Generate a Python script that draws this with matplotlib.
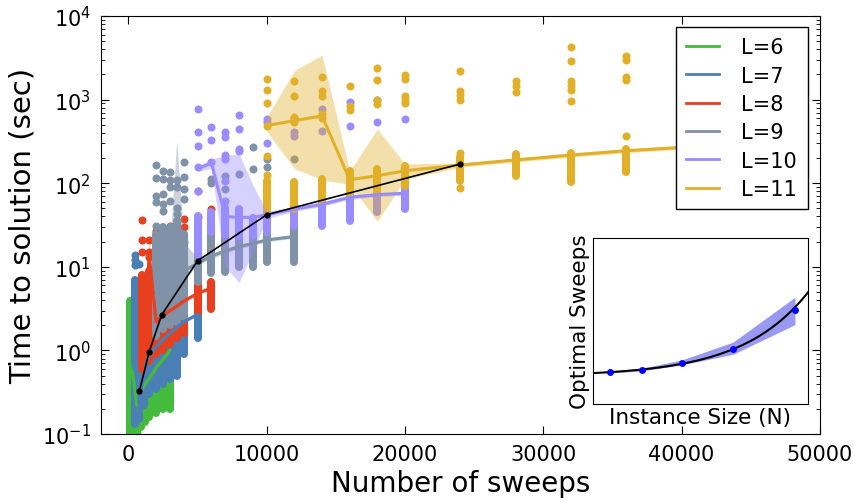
import numpy as np
import matplotlib
matplotlib.use('Agg')
import matplotlib.pyplot as plt
from matplotlib.lines import Line2D

plt.rcParams['font.family'] = 'DejaVu Sans'
plt.rcParams['mathtext.default'] = 'regular'
plt.rcParams['xtick.direction'] = 'in'
plt.rcParams['ytick.direction'] = 'in'
plt.rcParams['xtick.top'] = True
plt.rcParams['ytick.right'] = True

# ---- data ----
# each L: sweep columns, dense range of the dot column, stray dots,
# median TTS line and the shaded band round it
sweeps_6 = [100, 300, 600, 900, 1200, 1500, 2000, 2500, 3000]
lo_6 = [0.05, 0.07, 0.1, 0.12, 0.14, 0.16, 0.18, 0.2, 0.2]
hi_6 = [3.9, 3.5, 2.0, 1.5, 1.3, 0.8, 0.9, 0.95, 1.1]
out_6 = [[], [], [], [], [], [4.5], [], [], []]
med_6 = [0.6, 0.55, 0.22, 0.32, 0.4, 0.46, 0.62, 0.78, 1.0]
blo_6 = [0.5, 0.45, 0.18, 0.29, 0.37, 0.43, 0.58, 0.74, 0.95]
bhi_6 = [0.75, 0.7, 0.27, 0.36, 0.43, 0.5, 0.66, 0.82, 1.05]

sweeps_7 = [500, 800, 1100, 1500, 2000, 2500, 3000, 3500, 4000, 5000]
lo_7 = [0.13, 0.15, 0.22, 0.3, 0.35, 0.4, 0.45, 0.5, 0.9, 1.4]
hi_7 = [7.0, 5.5, 4.0, 1.6, 1.8, 2.0, 2.2, 2.3, 2.5, 2.9]
out_7 = [[14, 12, 10.5], [10.9, 6.2], [5.4], [], [12, 9.4], [11.5, 7.9],
         [13.6, 9.4], [16.3, 7.5], [20, 9], []]
med_7 = [1.2, 0.2, 0.6, 0.88, 1.1, 1.35, 1.6, 1.9, 2.2, 2.7]
blo_7 = [0.8, 0.15, 0.54, 0.82, 1.04, 1.28, 1.52, 1.8, 2.1, 2.6]
bhi_7 = [1.6, 0.3, 0.66, 0.94, 1.16, 1.42, 1.68, 2.0, 2.3, 2.8]

sweeps_8 = [1000, 1500, 2000, 2500, 3000, 3500, 4000, 5000, 6000]
lo_8 = [0.6, 0.75, 0.9, 1.0, 1.2, 1.4, 1.6, 2.9, 3.1]
hi_8 = [8.0, 9.0, 5.0, 6.0, 7.0, 7.5, 7.5, 6.0, 6.6]
out_8 = [[36, 21, 15], [21, 15, 13], [27, 16], [23, 18], [31, 28, 22],
         [28, 26], [37, 30], [39], [49]]
med_8 = [0.55, 14, 2.2, 2.65, 3.0, 3.4, 3.9, 4.8, 5.6]
blo_8 = [0.45, 8, 2.0, 2.5, 2.85, 3.2, 3.7, 4.6, 5.4]
bhi_8 = [0.9, 20, 2.4, 2.8, 3.15, 3.6, 4.1, 5.0, 5.8]

sweeps_9 = [2000, 2500, 3000, 3500, 4000, 5000, 6000, 7000, 8000, 9000, 10000, 12000]
lo_9 = [1.5, 1.8, 2.0, 2.2, 2.5, 6.5, 8.5, 8.7, 10, 10, 11.5, 11.5]
hi_9 = [25, 30, 30, 35, 25, 14, 26, 24, 23.5, 24, 26, 31]
out_9 = [[167, 116, 71, 59, 31], [141, 112, 74, 56, 47], [135, 108, 90, 62],
         [108, 89, 50, 43], [180, 120, 85, 65], [81], [112, 100], [123, 85],
         [130], [270, 148], [195, 156], [195]]
med_9 = [4.5, 5, 7, 30, 9, 11, 13.5, 15.5, 17.5, 19, 21, 23]
blo_9 = [4, 4.5, 6, 10, 7, 10.5, 12.5, 14.5, 16.5, 18, 20, 22]
bhi_9 = [5, 5.6, 20, 330, 20, 12.5, 14.5, 16.5, 18.5, 20, 22, 24.5]

sweeps_10 = [5000, 6000, 7000, 8000, 9000, 10000, 12000, 14000, 16000, 18000, 20000]
lo_10 = [13, 26, 24, 23.5, 24, 26, 31, 31, 35, 45, 49]
hi_10 = [40, 45, 50, 49, 38, 45, 49, 62, 70, 78, 85]
out_10 = [[770, 410, 280, 155, 81], [465, 330, 180], [410, 360, 215, 195, 105, 62],
          [655, 445, 256, 240], [], [590, 540, 300], [600, 410, 370], [770, 425],
          [950, 490], [1000, 540], [590]]
med_10 = [148, 175, 40, 39, 39, 42, 49, 56, 68, 73, 76]
blo_10 = [140, 150, 10, 6.5, 15, 38, 46, 53, 64, 69, 72]
bhi_10 = [160, 195, 215, 225, 95, 46, 52, 60, 72, 77, 80]

sweeps_11 = [10000, 12000, 14000, 16000, 18000, 20000, 24000, 28000, 32000, 36000, 40000]
lo_11 = [45, 49, 62, 75, 79, 93, 107, 123, 104, 135, 150]
hi_11 = [105, 103, 112, 140, 148, 160, 205, 225, 230, 260, 290]
out_11 = [[1760, 1300, 900, 480, 210, 125], [1650, 1100, 620, 540],
          [1880, 1270, 1100, 680, 600], [1450, 850, 760], [2370, 1720, 1000, 880],
          [1950, 1750, 1100, 1000, 900], [2200, 1270, 1150, 1000, 230, 87],
          [1650, 1450, 1250], [4300, 2900, 1680, 1500, 1300, 960],
          [3350, 2950, 1880, 1700, 370], [1500]]
med_11 = [490, 560, 640, 110, 123, 141, 165, 190, 217, 245, 268]
blo_11 = [420, 150, 110, 97, 35, 112, 155, 180, 205, 232, 255]
bhi_11 = [620, 2220, 3410, 140, 445, 170, 175, 200, 230, 258, 282]

labels = ['L=6', 'L=7', 'L=8', 'L=9', 'L=10', 'L=11']
colors = ['#44bb3c', '#4a7fb5', '#e8401e', '#8092a8', '#998cff', '#e2b028']

# optimal sweeps (black line) and inset
opt_sweeps = [800, 1500, 2400, 5000, 10000, 24000]
opt_tts = [0.33, 0.96, 2.65, 11.8, 42, 170]
inst_size = [343, 512, 729, 1000, 1331]
inst_opt = [1500, 2400, 5000, 10000, 24000]
inst_lo = [1200, 2000, 4200, 8000, 18700]
inst_hi = [1800, 2900, 6000, 12400, 28600]

groups = [
    (sweeps_6, lo_6, hi_6, out_6, med_6, blo_6, bhi_6),
    (sweeps_7, lo_7, hi_7, out_7, med_7, blo_7, bhi_7),
    (sweeps_8, lo_8, hi_8, out_8, med_8, blo_8, bhi_8),
    (sweeps_9, lo_9, hi_9, out_9, med_9, blo_9, bhi_9),
    (sweeps_10, lo_10, hi_10, out_10, med_10, blo_10, bhi_10),
    (sweeps_11, lo_11, hi_11, out_11, med_11, blo_11, bhi_11),
]

fig = plt.figure(figsize=(8.54, 5.02), dpi=100)
ax = fig.add_axes([0.118, 0.1335, 0.842, 0.8325])

# dots first
for (sw, lo, hi, out, med, blo, bhi), c in zip(groups, colors):
    ax.vlines(sw, lo, hi, colors=c, linewidth=5.8, capstyle='round', zorder=2)
    xs = [s for s, o in zip(sw, out) for _ in o]
    ys = [v for o in out for v in o]
    ax.plot(xs, ys, 'o', color=c, ms=5.8, mec='none', zorder=2)

# bands and median lines on top
for (sw, lo, hi, out, med, blo, bhi), c in zip(groups, colors):
    ax.fill_between(sw, blo, bhi, color=c, alpha=0.4, lw=0, zorder=3)
    ax.plot(sw, med, color=c, lw=2.2, zorder=4)

ax.plot(opt_sweeps, opt_tts, 'o-', color='black', lw=1.2, ms=3.5, zorder=5)

ax.set_yscale('log')
ax.set_ylim(0.1, 1e4)
ax.set_xlim(-2000, 50000)
ax.set_xticks([0, 10000, 20000, 30000, 40000, 50000])
ax.tick_params(which='major', length=6, labelsize=15, pad=7)
ax.tick_params(which='minor', length=3)
ax.set_xlabel('Number of sweeps', fontsize=20)
ax.set_ylabel('Time to solution (sec)', fontsize=21)

handles = [Line2D([], [], color=c, lw=2) for c in colors]
leg = ax.legend(handles, labels, loc='upper right', bbox_to_anchor=(0.983, 0.974),
                borderaxespad=0, fontsize=15, fancybox=False, framealpha=1,
                edgecolor='black', handlelength=1.55, handletextpad=1.1,
                labelspacing=0.4, borderpad=0.5)
leg.get_frame().set_linewidth(1.0)
leg.set_zorder(10)

# inset: optimal sweeps vs instance size
ins = fig.add_axes([0.694, 0.193, 0.252, 0.331])
ins.fill_between(inst_size, inst_lo, inst_hi, color='#5555ee', alpha=0.6, lw=0)
fit = np.polyfit(inst_size, np.log(inst_opt), 1)
nn = np.linspace(250, 1400, 200)
ins.plot(nn, np.exp(np.polyval(fit, nn)), color='black', lw=1.5)
ins.plot(inst_size, inst_opt, 'o', color='#0000ff', ms=5, mec='none')
ins.set_xlim(250, 1400)
ins.set_ylim(-10000, 50000)
ins.set_xticks([])
ins.set_yticks([])
ins.set_xlabel('Instance Size (N)', fontsize=15.5, labelpad=2)
ins.set_ylabel('Optimal Sweeps', fontsize=15.5, labelpad=2)

fig.savefig('out.png', dpi=100)
